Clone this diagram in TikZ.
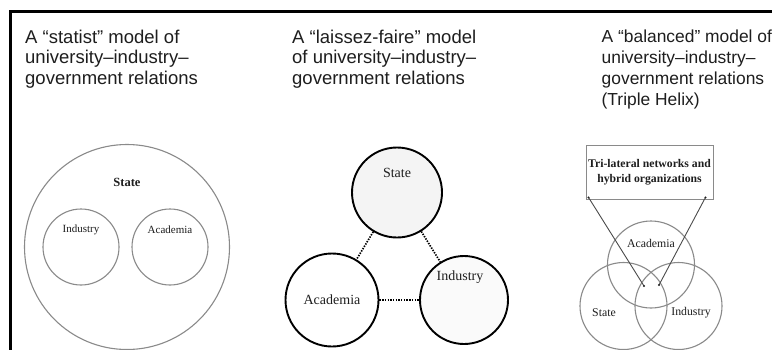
\documentclass[tikz,border=0pt]{standalone}
\usepackage{fontspec}
\setmainfont{Liberation Serif}
\newfontfamily\headfont{Liberation Sans}
\usepackage{xcolor}
\usepackage{tikz}
\definecolor{ringgray}{HTML}{8A8A8A}
\definecolor{inkgray}{HTML}{1E1E1E}
\tikzset{
  heading/.style={anchor=north west,inner sep=0pt,align=left,text=inkgray,
    font=\headfont\fontsize{18.5}{20.5}\selectfont},
  thinring/.style={circle,draw=ringgray,line width=1.1pt,inner sep=0pt},
  boldring/.style={circle,draw=black,line width=1.9pt,inner sep=0pt},
  tie/.style={line width=1.7pt,dash pattern=on 1.4pt off 1.3pt},
  smalllbl/.style={inner sep=0pt,text=inkgray,font=\fontsize{11}{13}\selectfont},
  midlbl/.style={inner sep=0pt,text=inkgray,font=\fontsize{14}{16}\selectfont},
  helixlbl/.style={inner sep=0pt,text=inkgray,font=\fontsize{11.8}{14}\selectfont},
}
\begin{document}
\begin{tikzpicture}[x=1pt,y=-1pt]
	\useasboundingbox[fill=white] (0,0) rectangle (772,349);
	% frame
	\draw[line width=2.6pt,line cap=rect] (10.5,349) -- (10.5,11.5) -- (772,11.5);

	% statist model
	\node[heading] (head1) at (25,29.5) {A “statist” model of\\university–industry–\\government relations};
	\node[thinring,minimum size=205pt] (state1) at (127,247) {};
	\node[thinring,minimum size=76pt] (ind1) at (81,247) {};
	\node[thinring,minimum size=76pt] (aca1) at (170,247) {};
	\node[inner sep=0pt,text=inkgray,font=\bfseries\fontsize{12.5}{14}\selectfont] (state1lbl) at ([yshift=65pt]state1.center) {State};
	\node[smalllbl] (ind1lbl) at ([yshift=17pt]ind1.center) {Industry};
	\node[smalllbl] (aca1lbl) at ([yshift=17pt]aca1.center) {Academia};

	% laissez-faire model
	\node[heading] (head2) at (292,29.5) {A “laissez-faire” model\\of university–industry–\\government relations};
	\node[boldring,fill=gray!9,minimum size=90pt] (state2) at (397,192.5) {};
	\node[boldring,fill=white,minimum size=93pt] (aca2) at (332,300) {};
	\node[boldring,fill=gray!4,minimum size=88pt] (ind2) at (464,300) {};
	\node[midlbl] (state2lbl) at ([yshift=20pt]state2.center) {State};
	\node[midlbl] (aca2lbl) at (aca2.center) {Academia};
	\node[midlbl] (ind2lbl) at ([xshift=-4pt,yshift=23pt]ind2.center) {Industry};
	\draw[tie] (state2) -- (aca2);
	\draw[tie] (state2) -- (ind2);
	\draw[tie] (aca2) -- (ind2);

	% balanced model
	\node[heading,font=\headfont\fontsize{17.4}{20.8}\selectfont] (head3) at (601.5,30) {A “balanced” model of\\university–industry–\\government relations\\(Triple Helix)};
	\node[draw=ringgray,line width=0.9pt,minimum width=127pt,minimum height=54pt,inner sep=0pt,align=center,
	  text=inkgray,font=\bfseries\fontsize{11.7}{15}\selectfont] (hybrid) at (649.5,172) {Tri-lateral networks and\\hybrid organizations};
	\node[thinring,minimum size=87pt] (aca3) at (651,264.5) {};
	\node[thinring,minimum size=87pt] (state3) at (623.5,306) {};
	\node[thinring,minimum size=87pt] (ind3) at (678.5,306) {};
	\node[helixlbl] (aca3lbl) at ([yshift=21.5pt]aca3.center) {Academia};
	\node[helixlbl] (state3lbl) at ([xshift=-19.5pt,yshift=-7pt]state3.center) {State};
	\node[helixlbl] (ind3lbl) at ([xshift=12.5pt,yshift=-7pt]ind3.center) {Industry};
	\coordinate (hubL) at (644,286);
	\coordinate (hubR) at (659,285);
	\coordinate (footL) at ([shift={(3pt,2pt)}]hybrid.south west);
	\coordinate (footR) at ([shift={(-8pt,2pt)}]hybrid.south east);
	\draw[inkgray!80,line width=0.9pt] (footL) -- (hubL);
	\draw[inkgray!80,line width=0.9pt] (footR) -- (hubR);
	\foreach \pt in {hubL,hubR,footL,footR}
		\fill[inkgray] (\pt) circle [radius=1.1];
\end{tikzpicture}
\end{document}
